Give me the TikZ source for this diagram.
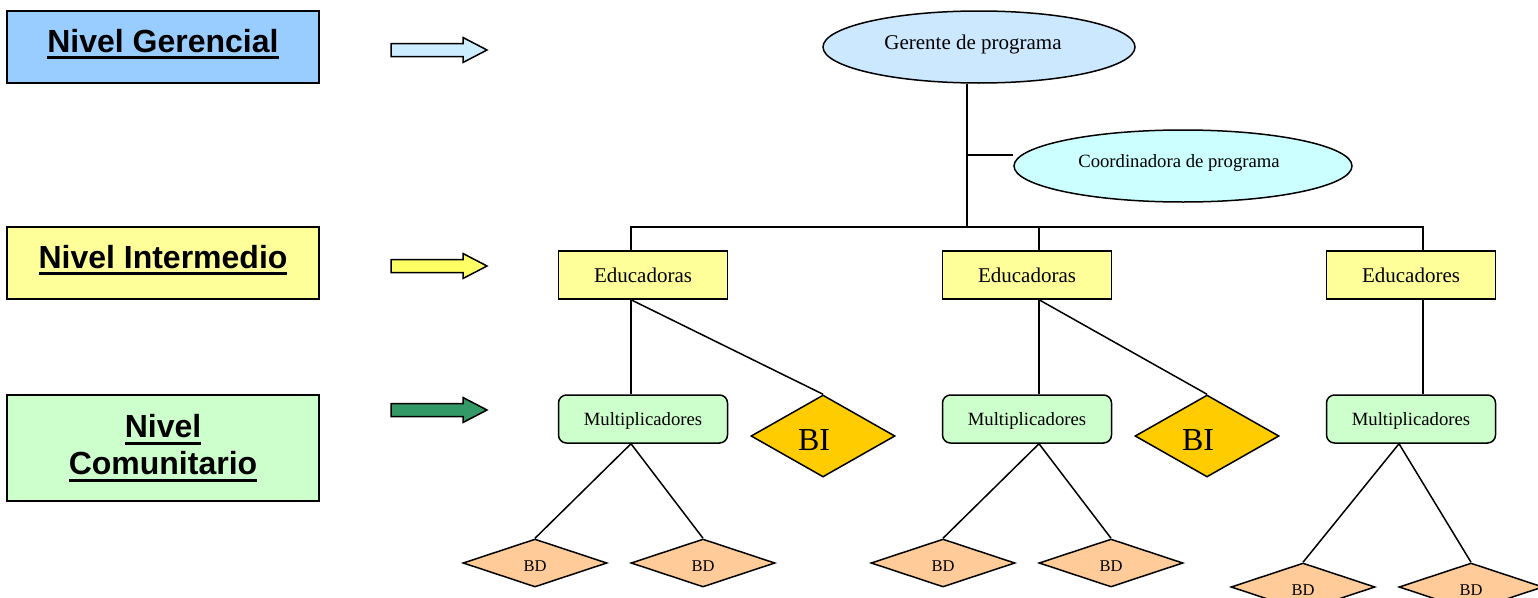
\documentclass[tikz,border=0pt]{standalone}
\usepackage{fontspec}
\setmainfont{Liberation Serif}
\newfontfamily\lvlfont{Liberation Sans}
\usetikzlibrary{shapes.geometric}

% underline drawn as a thick rule just below the baseline
\newsavebox\ulsave
\newcommand\lvlul[1]{\sbox\ulsave{#1}\leavevmode\rlap{\rule[-7pt]{\wd\ulsave}{3pt}}\usebox\ulsave}

\definecolor{lvlblue}{HTML}{99CCFF}
\definecolor{lvlyellow}{HTML}{FFFF99}
\definecolor{lvlgreen}{HTML}{CCFFCC}
\definecolor{arrblue}{HTML}{CCECFF}
\definecolor{arryellow}{HTML}{FFFF66}
\definecolor{arrgreen}{HTML}{339966}
\definecolor{gerfill}{HTML}{CCE8FF}
\definecolor{coordfill}{HTML}{CCFFFF}
\definecolor{bifill}{HTML}{FFCC00}
\definecolor{bdfill}{HTML}{FFCC99}

\newcommand\orgbig{\fontsize{21}{25}\selectfont}
\newcommand\orgsmall{\fontsize{18.7}{22}\selectfont}

\tikzset{
  lvlbox/.style={draw, minimum width=312pt, minimum height=72pt, inner sep=0pt,
    align=center, font={\lvlfont\bfseries\fontsize{32}{37}\selectfont}},
  ovalbox/.style={ellipse, draw, inner sep=0pt, minimum height=72pt},
  edubox/.style={draw, fill=lvlyellow, minimum width=169pt, minimum height=48pt,
    inner sep=0pt, font=\orgbig},
  multbox/.style={draw, fill=lvlgreen, rounded corners=8pt, minimum width=169pt,
    minimum height=48pt, inner sep=0pt, font=\orgsmall, text height=16.7pt, text depth=4pt},
  bibox/.style={diamond, draw, fill=bifill, inner sep=0pt, minimum width=144pt,
    minimum height=82pt},
  bdbox/.style={diamond, draw, fill=bdfill, inner sep=0pt, minimum width=144pt,
    minimum height=48pt, font=\fontsize{16.5}{18}\selectfont, text height=17pt, text depth=0pt},
  blockarrow/.pic={
    \draw[pic actions] (0,-6.5) -- (72,-6.5) -- (72,-12.5) -- (96,0)
      -- (72,12.5) -- (72,6.5) -- (0,6.5) -- cycle;
  }
}

\begin{document}
\begin{tikzpicture}[x=1pt, y=-1pt, line width=1.5pt, line join=miter]
\useasboundingbox (0,0) rectangle (1538,597);
\clip (0,0) rectangle (1538,597);

% level labels
\node[lvlbox, fill=lvlblue, text height=23.4pt, text depth=13pt]   (lvlger) at (163,47)
  {\lvlul{Nivel Gerencial}};
\node[lvlbox, fill=lvlyellow, text height=23.4pt, text depth=13pt] (lvlint) at (163,263)
  {\lvlul{Nivel Intermedio}};
\node[lvlbox, fill=lvlgreen, minimum height=106pt] (lvlcom) at (163,448)
  {\lvlul{Nivel}\\\lvlul{Comunitario}};

% level arrows
\pic[fill=arrblue]   at (391,50)  {blockarrow};
\pic[fill=arryellow] at (391,266) {blockarrow};
\pic[fill=arrgreen]  at (391,410) {blockarrow};

% management
\node[ovalbox, fill=gerfill, minimum width=312pt, font=\orgbig,
  text height=14.3pt, text depth=8.6pt] (ger) at (979,47)
  {Gerente de programa\kern12pt};
\node[ovalbox, fill=coordfill, minimum width=338pt, font=\orgsmall,
  text height=12.7pt, text depth=10.1pt] (coord) at (1183,166)
  {Coordinadora de programa\kern8pt};

% educators
\node[edubox] (edu1) at (643,275)  {Educadoras};
\node[edubox] (edu2) at (1027,275) {Educadoras};
\node[edubox] (edu3) at (1411,275) {Educadores};

% multipliers
\node[multbox] (mult1) at (643,419)  {Multiplicadores};
\node[multbox] (mult2) at (1027,419) {Multiplicadores};
\node[multbox] (mult3) at (1411,419) {Multiplicadores};

% BI diamonds
\node[bibox, label={[font=\fontsize{32}{36}\selectfont, shift={(-9pt,-4pt)}]center:BI}] (bi1) at (823,436) {};
\node[bibox, label={[font=\fontsize{32}{36}\selectfont, shift={(-9pt,-4pt)}]center:BI}] (bi2) at (1207,436) {};

% BD diamonds
\node[bdbox] (bd1) at (535,563)  {BD};
\node[bdbox] (bd2) at (703,563)  {BD};
\node[bdbox] (bd3) at (943,563)  {BD};
\node[bdbox] (bd4) at (1111,563) {BD};
\node[bdbox] (bd5) at (1303,587) {BD};
\node[bdbox] (bd6) at (1471,587) {BD};

% connectors
\coordinate (j)  at (967,227);
\coordinate (jc) at (967,155);
\draw (ger.south -| j) -- (j);
\draw (jc) -- (jc -| coord.west);
\draw ([xshift=-12pt]edu1.north) |- (j) -| ([xshift=12pt]edu3.north);
\draw ([xshift=12pt]edu2.north) |- (j);

\draw ([xshift=-12pt]edu1.south) -- ([xshift=-12pt]mult1.north);
\draw ([xshift=12pt]edu2.south) -- ([xshift=12pt]mult2.north);
\draw ([xshift=12pt]edu3.south) -- ([xshift=12pt]mult3.north);

\draw ([xshift=-12pt]edu1.south) -- (bi1.north);
\draw ([xshift=12pt]edu2.south) -- (bi2.north);

\draw (bd1.north) -- ([xshift=-12pt]mult1.south) -- (bd2.north);
\draw (bd3.north) -- ([xshift=12pt]mult2.south) -- (bd4.north);
\draw (bd5.north) -- ([xshift=-12pt]mult3.south) -- (bd6.north);
\end{tikzpicture}
\end{document}
